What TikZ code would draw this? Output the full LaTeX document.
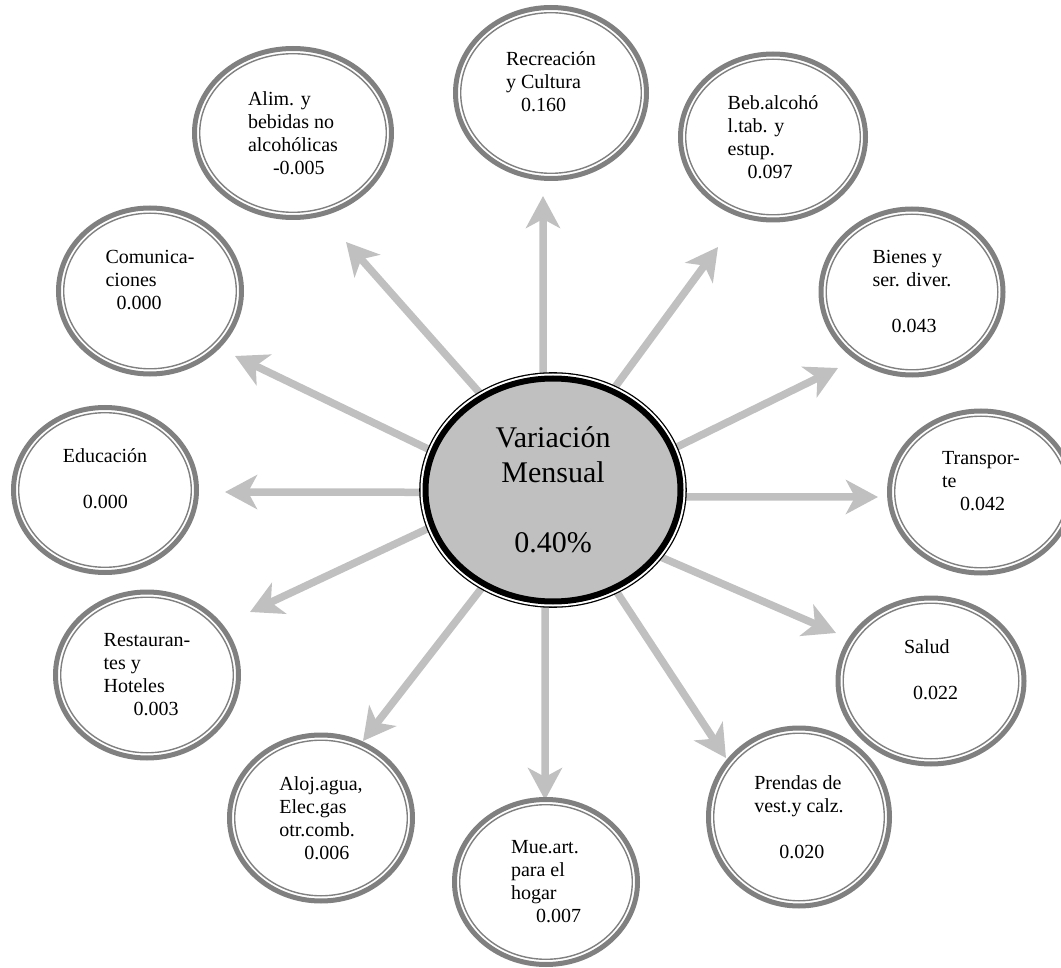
\documentclass[tikz,border=0pt]{standalone}
\usepackage{fontspec}
\setmainfont{Liberation Serif}
\usetikzlibrary{shapes.geometric,arrows.meta,calc,backgrounds}
\definecolor{ringgray}{HTML}{808080}
\definecolor{silver}{HTML}{C0C0C0}
\tikzset{
	cat/.style={ellipse, draw=ringgray, line width=5pt, fill=white, inner sep=0pt,
		minimum width=183pt, minimum height=166pt, align=left,
		font=\fontsize{20}{23}\selectfont,
		path picture={\draw[ringgray, line width=1.4pt]
			let \p1=($(path picture bounding box.north east)-(path picture bounding box.center)$)
			in (path picture bounding box.center) ellipse [x radius=\x1-5.2pt, y radius=\y1-5.2pt];}},
	hubnode/.style={ellipse, fill=silver, draw=black, line width=6pt, inner sep=0pt,
		minimum width=255pt, minimum height=223pt, align=center,
		font=\fontsize{30}{35}\selectfont,
		preaction={draw=black, line width=12.6pt},
		preaction={draw=white, line width=10pt}},
	spoke/.style={draw=silver, line width=7.5pt, -{Stealth[length=32pt, width=34pt, inset=9pt]}}
}

\begin{document}
\begin{tikzpicture}[x=1pt, y=-1pt]
			%%%%% START %%%%%
			\useasboundingbox (0,0) rectangle (1061,968);
			
			\node[hubnode] (ctr) at (553,490) {Variación\\Mensual\\[35pt]0.40\%};
			
			\node[cat, minimum width=191pt, minimum height=171pt] (rec) at (551,93) {Recreación\\y Cultura\\\hspace*{15pt}0.160\\\mbox{}};
			\node[cat, minimum width=185pt] (beb) at (773,137) {Beb.alcohó\\l.tab. y\\estup.\\\hspace*{20pt}0.097};
			\node[cat, minimum width=182pt] (bie) at (912,292) {Bienes y\\ser. diver.\\[23pt]\hspace*{19pt}0.043};
			\node[cat, minimum height=162pt] (tra) at (981,492) {Transpor-\\te\\\hspace*{18pt}0.042\\\mbox{}};
			\node[cat, minimum width=186pt] (sal) at (931,681) {Salud\\[23pt]\hspace*{9pt}0.022\\\mbox{}};
			\node[cat, minimum width=181pt, minimum height=178pt] (pre) at (799,817) {Prendas de\\vest.y calz.\\[23pt]\hspace*{25pt}0.020};
			\node[cat, minimum height=165pt] (mue) at (546,882) {Mue.art.\\para el\\hogar\\\hspace*{25pt}0.007};
			\node[cat] (alo) at (321,818) {Aloj.agua,\\Elec.gas\\otr.comb.\\\hspace*{25pt}0.006};
			\node[cat] (res) at (147,675) {Restauran-\\tes y\\Hoteles\\\hspace*{30pt}0.003};
			\node[cat, minimum height=165pt] (edu) at (105,490) {Educación\\[23pt]\hspace*{20pt}0.000\\\mbox{}};
			\node[cat] (com) at (150,291) {Comunica-\\ciones\\\hspace*{11pt}0.000\\\mbox{}};
			\node[cat, minimum width=197pt, minimum height=169pt] (ali) at (293,133) {Alim. y\\bebidas no\\alcohólicas\\\hspace*{25pt}-0.005};
			
			% arrow tips, they stop short of the rings
			\coordinate (rec-tip) at (543,196);
			\coordinate (beb-tip) at (718,247);
			\coordinate (bie-tip) at (838,368);
			\coordinate (tra-tip) at (878,497);
			\coordinate (sal-tip) at (836,633);
			\coordinate (pre-tip) at (726,758);
			\coordinate (mue-tip) at (545,800);
			\coordinate (alo-tip) at (363,741);
			\coordinate (res-tip) at (250,612);
			\coordinate (edu-tip) at (225,492);
			\coordinate (com-tip) at (235,356);
			\coordinate (ali-tip) at (346,242);
			
			\begin{pgfonlayer}{background}
				\foreach \a/\n in {95/rec, 59/beb, 19/bie, 357/tra, 328/sal, 302/pre, 266/mue, 234/alo, 197/res, 181/edu, 162/com, 127/ali}
					\draw[spoke] (ctr.\a) -- (\n-tip);
			\end{pgfonlayer}
			%%%%% END %%%%%
\end{tikzpicture}
\end{document}
